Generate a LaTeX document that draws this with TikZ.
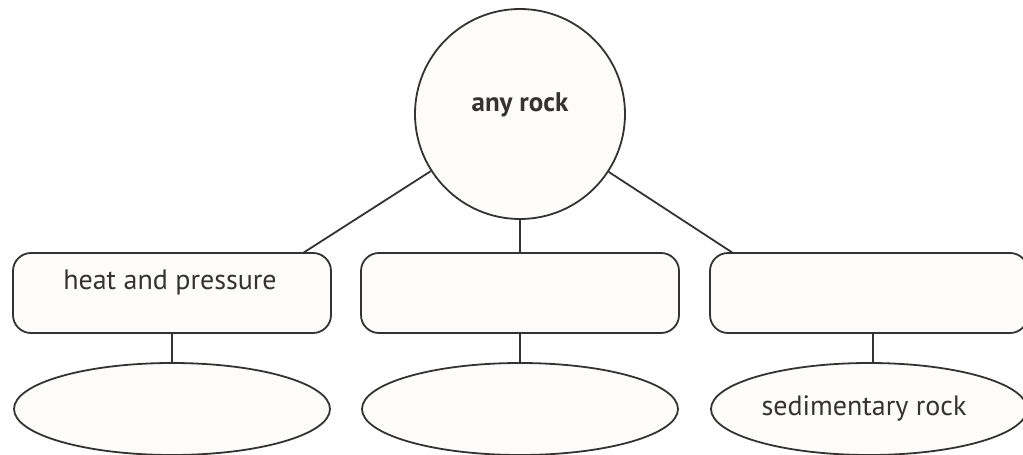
\documentclass[tikz,border=0pt]{standalone}
\usepackage{fontspec}
\setmainfont{PT Sans}
\usetikzlibrary{shapes.geometric}
\definecolor{ln}{HTML}{333333}
\definecolor{fl}{HTML}{FDFCFA}
\tikzset{
  every node/.style={font=\fontsize{28}{32}\selectfont, text=ln},
  rockcircle/.style={circle, draw=ln, fill=fl, line width=1.8pt, minimum size=210pt, inner sep=0pt},
  procbox/.style={rectangle, rounded corners=18pt, draw=ln, fill=fl, line width=1.8pt, minimum width=318pt, minimum height=80pt, inner sep=0pt},
  rockell/.style={ellipse, draw=ln, fill=fl, line width=1.8pt, minimum width=316pt, minimum height=92pt, inner sep=0pt},
  conn/.style={draw=ln, line width=1.8pt}
}
\begin{document}
\begin{tikzpicture}[x=1pt,y=-1pt]
\useasboundingbox (0,0) rectangle (1023,455);
\coordinate (t1) at (303,253);
\coordinate (t3) at (733,253);
\node[rockcircle] (c) at (520,114) {};
\node[procbox] (b1) at (172,293) {};
\node[procbox] (b2) at (520,293) {};
\node[procbox] (b3) at (869,293) {};
\node[rockell] (e1) at (172,409) {};
\node[rockell] (e2) at (520,409) {};
\node[rockell] (e3) at (869,409) {};
\draw[conn] (c) -- (t1);
\draw[conn] (c.south) -- (b2.north);
\draw[conn] (c) -- (t3);
\draw[conn] (b1.south) -- (e1.north);
\draw[conn] (b2.south) -- (e2.north);
\draw[conn] ([xshift=4pt]b3.south) -- ([xshift=4pt]b3.south |- e3.north);
\node[font=\bfseries\fontsize{27}{32}\selectfont] (lc) at (520,105) {any rock};
\node (l1) at (170,282) {heat and pressure};
\node (l3) at (864,408) {sedimentary rock};
\end{tikzpicture}
\end{document}
